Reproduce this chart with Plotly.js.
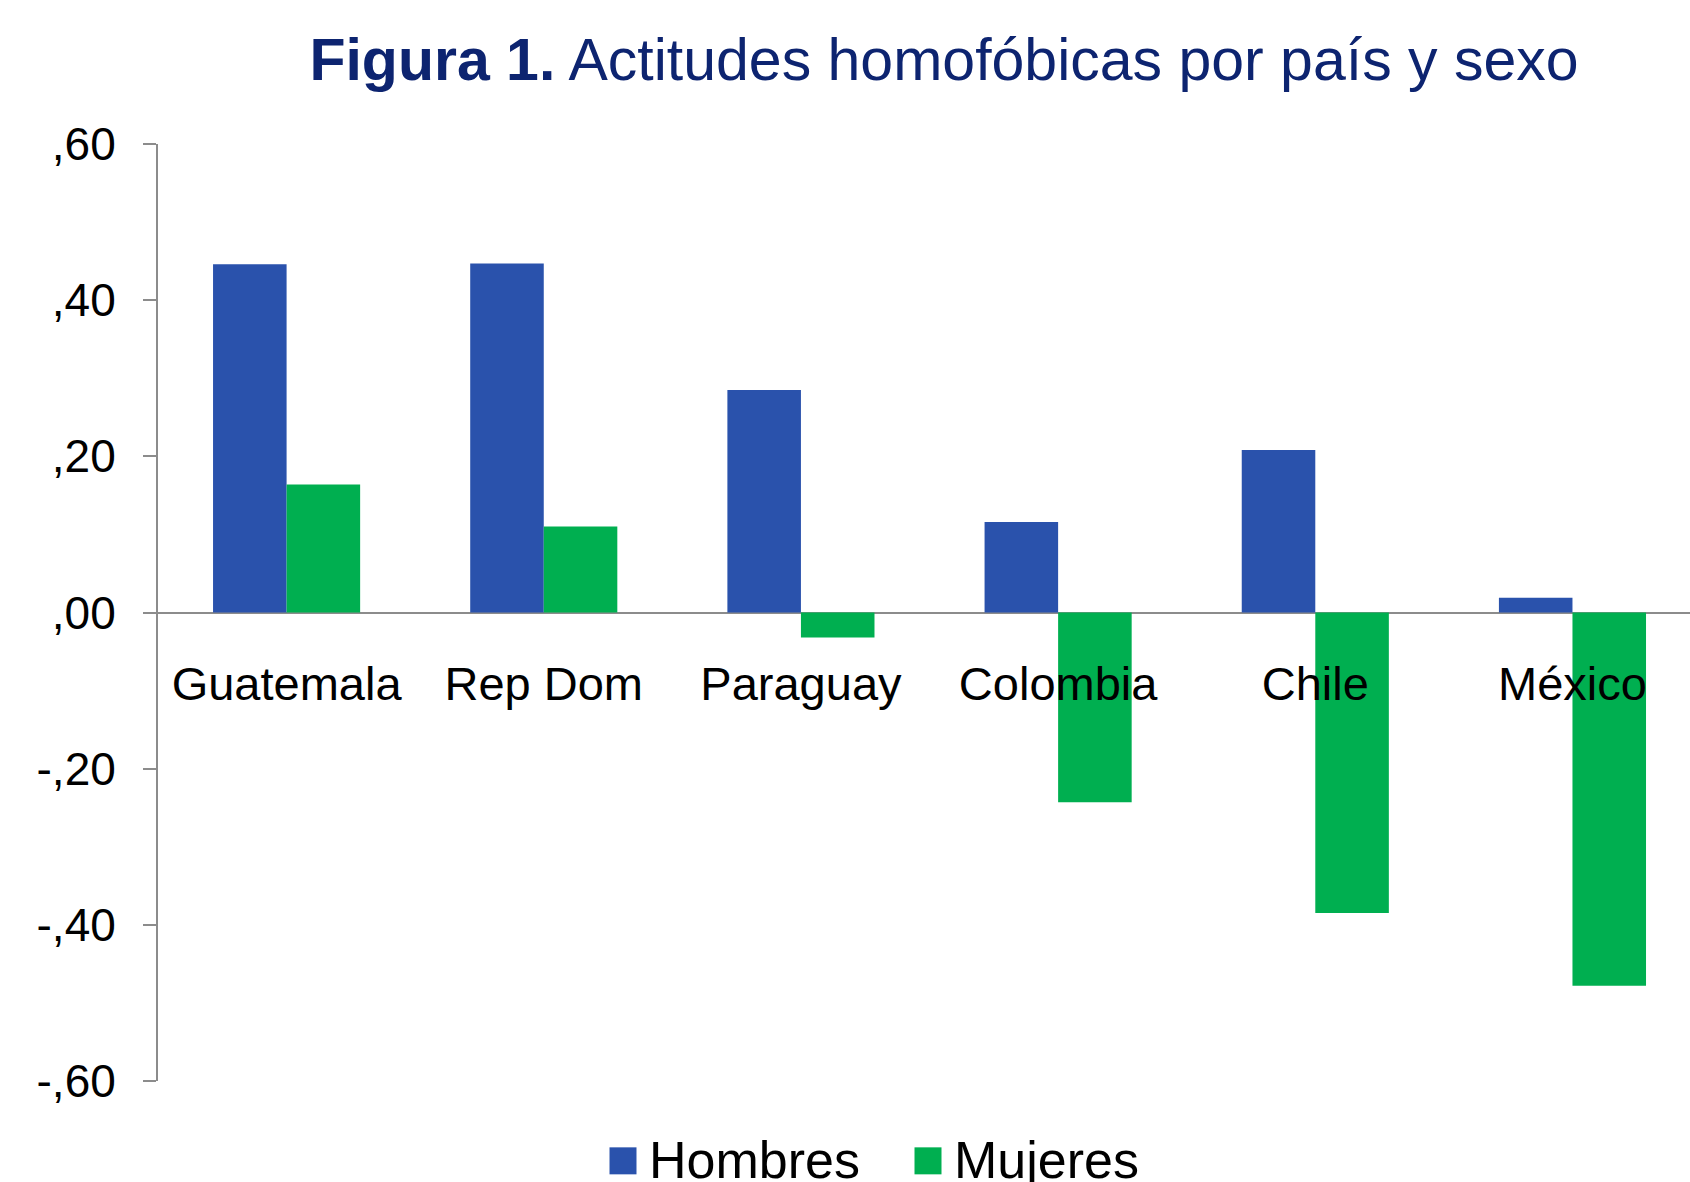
<!DOCTYPE html>
<html>
<head>
<meta charset="utf-8">
<script src="https://cdn.plot.ly/plotly-3.0.1.min.js"></script>
<style>
  html, body { margin: 0; padding: 0; background: #fff; }
  #chart { width: 1690px; height: 1182px; }
  .legend .scrollbox { clip-path: none !important; }
  .legendpoints path { transform-box: fill-box; transform-origin: center; transform: translate(14px, 3px) scale(2.25); }
</style>
</head>
<body>
<div id="chart"></div>
<script>
const countries = ['Guatemala', 'Rep Dom', 'Paraguay', 'Colombia', 'Chile', 'México'];
const hombres = [0.446, 0.447, 0.285, 0.116, 0.208, 0.019];
const mujeres = [0.164, 0.110, -0.032, -0.243, -0.385, -0.478];
const yTickVals = [-0.6, -0.4, -0.2, 0, 0.2, 0.4, 0.6];
const yTickText = ['-,60', '-,40', '-,20', ',00', ',20', ',40', ',60'];
const seriesNames = ['Hombres', 'Mujeres'];
const titleBold = 'Figura 1.';
const titleRest = 'Actitudes homofóbicas por país y sexo';

const FONT = '"Liberation Sans", Arial, sans-serif';

const traces = [
  { type: 'bar', x: countries, y: hombres, name: seriesNames[0],
    marker: { color: '#2a52ac' }, hoverinfo: 'skip' },
  { type: 'bar', x: countries, y: mujeres, name: seriesNames[1],
    marker: { color: '#00af50' }, hoverinfo: 'skip' }
];

const layout = {
  width: 1690, height: 1182,
  paper_bgcolor: '#ffffff', plot_bgcolor: '#ffffff',
  margin: { l: 158, r: 0, t: 144, b: 101, pad: 0, autoexpand: false },
  font: { family: FONT, color: '#000000' },
  title: {
    text: '<b>' + titleBold + '</b> ' + titleRest,
    font: { family: FONT, size: 59, color: '#0d2470' },
    x: 944 / 1690, xanchor: 'center', xref: 'container',
    y: 1 - 80 / 1182, yanchor: 'bottom', yref: 'container'
  },
  barmode: 'group', bargap: 0.428, bargroupgap: 0,
  showlegend: true,
  legend: {
    orientation: 'h', xref: 'container', x: 609 / 1690, xanchor: 'left',
    y: -0.039, yanchor: 'top',
    font: { family: FONT, size: 52, color: '#000000' },
    itemwidth: 30, entrywidth: 260, entrywidthmode: 'pixels',
    traceorder: 'normal', bgcolor: 'rgba(0,0,0,0)'
  },
  xaxis: {
    type: 'category', range: [-0.5, 5.457], fixedrange: true,
    anchor: 'free', position: 0.5,
    showline: false, showgrid: false, zeroline: false, ticks: '',
    tickfont: { family: FONT, size: 47, color: '#000000' },
    ticklabelstandoff: 39
  },
  yaxis: {
    range: [-0.6, 0.6], fixedrange: true,
    tickvals: yTickVals, ticktext: yTickText,
    showgrid: false, showline: true, linecolor: '#8c8c8c', linewidth: 2,
    zeroline: true, zerolinecolor: '#8c8c8c', zerolinewidth: 2,
    ticks: 'outside', ticklen: 13, tickwidth: 2, tickcolor: '#8c8c8c',
    tickfont: { family: FONT, size: 46, color: '#000000' },
    ticklabelstandoff: 18
  }
};

Plotly.newPlot('chart', traces, layout, { staticPlot: true, displayModeBar: false });
</script>
</body>
</html>
